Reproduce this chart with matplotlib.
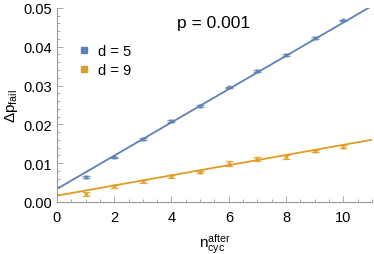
import matplotlib
matplotlib.use("Agg")
import matplotlib.pyplot as plt
import numpy as np
from matplotlib.lines import Line2D
from matplotlib.ticker import MultipleLocator

plt.rcParams["font.family"] = ["Liberation Sans", "DejaVu Sans"]
plt.rcParams["mathtext.fontset"] = "custom"
plt.rcParams["mathtext.rm"] = "Liberation Sans"
plt.rcParams["mathtext.it"] = "Liberation Sans"
plt.rcParams["mathtext.default"] = "regular"

# 測定点（n_cyc^after ごとの Δp_fail）
n_cyc = [1, 2, 3, 4, 5, 6, 7, 8, 9, 10]
d5_vals = [0.0065, 0.0115, 0.0162, 0.0209, 0.0248, 0.0295, 0.0338, 0.0379, 0.0422, 0.0468]
d5_err = [0.0002, 0.0002, 0.0002, 0.0002, 0.0002, 0.0002, 0.0002, 0.0002, 0.0002, 0.0002]
d9_vals = [0.0021, 0.0040, 0.0053, 0.0066, 0.0078, 0.0099, 0.0110, 0.0116, 0.0132, 0.0142]
d9_err = [0.0006, 0.0003, 0.0003, 0.0003, 0.0003, 0.0007, 0.0005, 0.0005, 0.0003, 0.0004]

# 線形フィット（切片, 傾き）
d5_fit = (0.00335, 0.00429)
d9_fit = (0.00163, 0.00131)

BLUE = "#5E81B5"
ORANGE = "#E19C24"
AXIS = "#999999"

fig = plt.figure(figsize=(3.74, 2.55), dpi=100)
ax = fig.add_axes([0.152, 0.204, 0.843, 0.761])

xs = np.linspace(0, 11, 50)
for vals, err, (b, a), c, lab in [(d5_vals, d5_err, d5_fit, BLUE, "d = 5"),
                                   (d9_vals, d9_err, d9_fit, ORANGE, "d = 9")]:
    ax.plot(xs, b + a * xs, color=c, lw=1.3, zorder=2)
    ax.errorbar(n_cyc, vals, yerr=err, fmt="s", ms=3.5, color=c, mfc=c, mec="none",
                alpha=0.8, capsize=3, elinewidth=0.9, capthick=0.9, zorder=3, label=lab)

ax.set_xlim(0, 11)
ax.set_ylim(0, 0.05)
ax.xaxis.set_major_locator(MultipleLocator(2))
ax.xaxis.set_minor_locator(MultipleLocator(0.5))
ax.yaxis.set_major_locator(MultipleLocator(0.01))
ax.yaxis.set_minor_locator(MultipleLocator(0.002))
ax.set_yticklabels([f"{v:.2f}" for v in ax.get_yticks()])
for s in ("top", "right"):
    ax.spines[s].set_visible(False)
for s in ("left", "bottom"):
    ax.spines[s].set_color(AXIS)
    ax.spines[s].set_linewidth(0.8)
ax.tick_params(which="both", direction="in", color=AXIS, labelsize=10.5, width=0.6)
ax.tick_params(which="major", length=4)
ax.tick_params(which="minor", length=2)
ax.tick_params(axis="x", pad=6)

ax.set_xlabel(r"$n_{cyc}^{after}$", fontsize=11, labelpad=5)
ax.set_ylabel(r"$\Delta p_{fail}$", fontsize=11, labelpad=2)
ax.text(0.498, 0.925, "p = 0.001", transform=ax.transAxes, fontsize=12.5, ha="center", va="center")

labels = ["d = 5", "d = 9"]
h = [Line2D([], [], marker="s", ls="none", color=c, ms=4) for c in (BLUE, ORANGE)]
ax.legend(h, labels, loc="upper left", bbox_to_anchor=(0.02, 0.88), frameon=False,
          fontsize=10.5, handletextpad=0.5, labelspacing=0.35, handlelength=1.0)

fig.savefig("out.png", dpi=100)
